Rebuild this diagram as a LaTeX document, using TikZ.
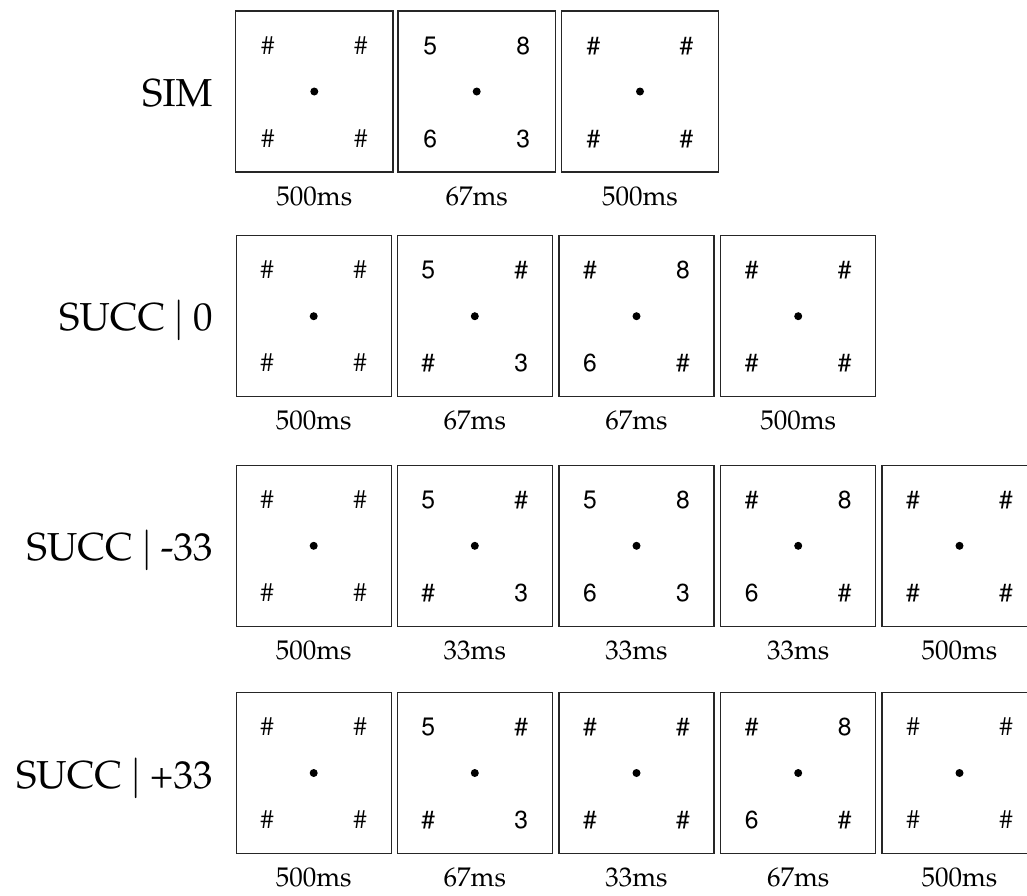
\documentclass[tikz,border=0pt]{standalone}
\usepackage[T1]{fontenc}
\usepackage{mathpazo}
\usepackage[scaled=0.95]{helvet}
\tikzset{
  frame/.style={draw=black!85, line width=0.65pt, minimum height=80.5pt, inner sep=0pt},
  sym/.style={font=\sffamily\fontsize{13}{14}\selectfont, inner sep=0pt, anchor=base},
  tlab/.style={font=\rmfamily\fontsize{13.5}{15}\selectfont, inner sep=0pt, anchor=base},
  rowlab/.style={font=\rmfamily\fontsize{19.5}{22}\selectfont, inner sep=0pt, anchor=base east},
}
\newcommand\hs{\#}
\newcommand\hr{{\rmfamily\#}}
\newcommand\vbar{\hspace{0.2em}$|$\hspace{0.2em}}
% name, cx, cy, width(pt), TL, TR, BL, BR, time
\newcommand\stim[9]{%
  \node[frame, minimum width=#4] (#1) at (#2,#3) {};
  \fill (#1.center) circle[radius=2pt];
  \node[sym] (#1tl) at ([shift={(-46.5,-37.5)}]#1.center) {#5};
  \node[sym] (#1tr) at ([shift={(46.5,-37.5)}]#1.center) {#6};
  \node[sym] (#1bl) at ([shift={(-46.5,55.5)}]#1.center) {#7};
  \node[sym] (#1br) at ([shift={(46.5,55.5)}]#1.center) {#8};
  \node[tlab] (#1t) at ([shift={(0,113.5)}]#1.center) {#9};
}
\begin{document}
\begin{tikzpicture}[x=0.5pt,y=-0.5pt]
\useasboundingbox (0,0) rectangle (1027,895);
\clip (0,0) rectangle (1027,895);
% Row 1: SIM
\node[rowlab] (lsim) at (213,106.5) {SIM};
\stim{a1}{314.3}{91.5}{78.75pt}{\hr}{\hr}{\hr}{\hr}{500ms}
\stim{a2}{476.7}{91.5}{78.75pt}{5}{8}{6}{3}{67ms}
\stim{a3}{640}{91.5}{78.75pt}{\hs}{\hs}{\hs}{\hs}{500ms}
% Row 2: SUCC|0
\node[rowlab] (lsucc0) at (213,330.7) {SUCC\vbar 0};
\stim{b1}{313.7}{316.2}{77.5pt}{\hr}{\hr}{\hr}{\hr}{500ms}
\stim{b2}{474.8}{316.2}{77.5pt}{5}{\hs}{\hs}{3}{67ms}
\stim{b3}{636.5}{316.2}{77.5pt}{\hs}{8}{6}{\hs}{67ms}
\stim{b4}{798.2}{316.2}{77.5pt}{\hs}{\hs}{\hs}{\hs}{500ms}
% Row 3: SUCC|-33
\node[rowlab] (lsuccm) at (213,560.5) {SUCC\vbar -33};
\stim{c1}{313.7}{545.8}{77.5pt}{\hr}{\hr}{\hr}{\hr}{500ms}
\stim{c2}{474.8}{545.8}{77.5pt}{5}{\hs}{\hs}{3}{33ms}
\stim{c3}{636.5}{545.8}{77.5pt}{5}{8}{6}{3}{33ms}
\stim{c4}{798.2}{545.8}{77.5pt}{\hs}{8}{6}{\hs}{33ms}
\stim{c5}{959.5}{545.8}{77.5pt}{\hs}{\hs}{\hs}{\hs}{500ms}
% Row 4: SUCC|+33
\node[rowlab] (lsuccp) at (213,788.3) {SUCC\vbar +33};
\stim{d1}{313.7}{773}{77.5pt}{\hr}{\hr}{\hr}{\hr}{500ms}
\stim{d2}{474.8}{773}{77.5pt}{5}{\hs}{\hs}{3}{67ms}
\stim{d3}{636.5}{773}{77.5pt}{\hs}{\hs}{\hs}{\hs}{33ms}
\stim{d4}{798.2}{773}{77.5pt}{\hs}{8}{6}{\hs}{67ms}
\stim{d5}{959.5}{773}{77.5pt}{\hr}{\hr}{\hr}{\hr}{500ms}
\end{tikzpicture}
\end{document}
